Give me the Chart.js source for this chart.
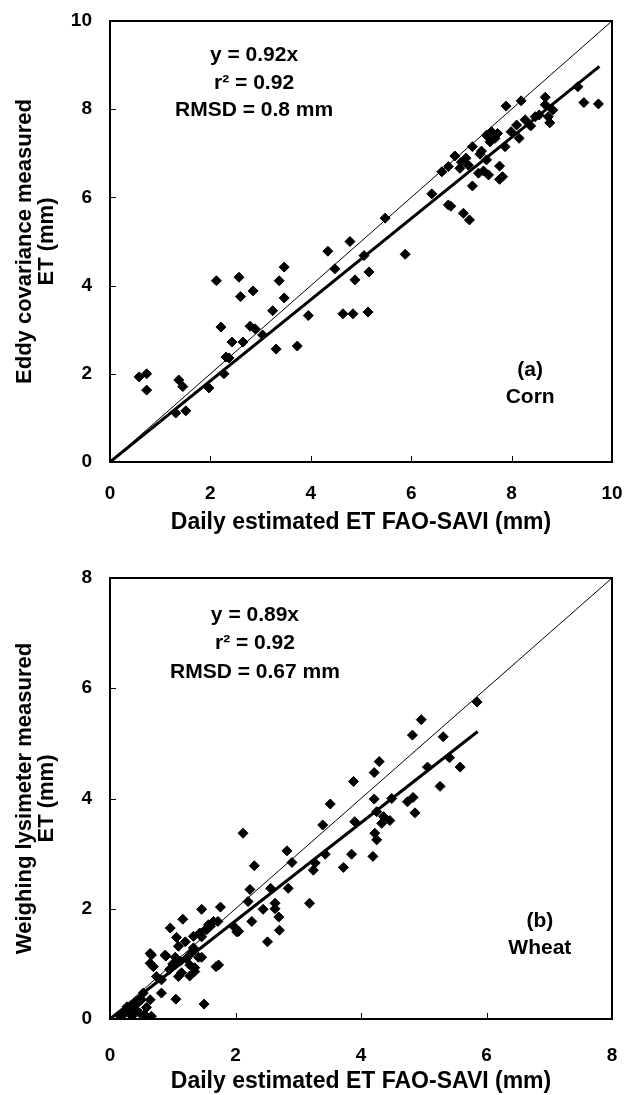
<!DOCTYPE html>
<html>
<head>
<meta charset="utf-8">
<script src="https://cdn.jsdelivr.net/npm/chart.js@4.4.0/dist/chart.umd.min.js"></script>
<style>
body { margin: 0; background: #fff; }
canvas { display: block; }
</style>
</head>
<body>
<canvas id="cornChart" width="636" height="547"></canvas>
<canvas id="wheatChart" width="636" height="548"></canvas>
<script>
// (a) corn - eddy covariance vs FAO-SAVI
const cornX = [0.58, 0.73, 0.73, 1.37, 1.45, 1.31, 1.51, 1.97, 2.27, 2.31, 2.37, 2.43, 2.65, 3.31, 3.73,
    2.12, 2.57, 3.37, 3.47, 2.85, 2.60, 3.47, 3.24, 3.95, 2.21, 2.79, 2.89, 3.04,
    4.34, 4.78, 4.48, 5.06, 5.88, 4.88, 5.16, 4.64, 4.84, 5.14, 5.48,
    6.41, 6.74, 6.79, 7.04, 7.16, 7.22, 6.61, 6.74, 6.87, 6.97, 7.09, 7.14, 7.22, 7.37, 7.50,
    7.34, 7.44, 7.54, 7.76, 7.76, 7.82, 7.50, 7.60, 7.67, 7.57, 7.87, 7.72, 7.89, 7.99, 8.10,
    8.15, 8.19, 8.27, 8.38, 8.47, 8.55, 8.67, 8.67, 8.73, 8.82, 8.76, 9.32, 9.44, 9.73, 7.00, 7.40];
const cornY = [1.93, 2.00, 1.63, 1.86, 1.71, 1.11, 1.16, 1.68, 2.00, 2.38, 2.36, 2.72, 2.72, 2.56, 2.63,
    4.11, 4.19, 4.11, 4.42, 3.88, 3.75, 3.72, 3.43, 3.32, 3.06, 3.08, 3.02, 2.88,
    4.78, 5.00, 4.38, 4.68, 4.71, 4.13, 4.31, 3.36, 3.36, 3.40, 5.53,
    6.08, 5.83, 5.80, 5.64, 5.49, 6.26, 6.58, 6.70, 6.94, 6.66, 6.89, 6.73, 7.15, 6.98, 6.85,
    6.55, 6.60, 6.51, 6.71, 6.41, 6.47, 7.41, 7.49, 7.34, 7.26, 7.15, 7.45, 8.07, 7.49, 7.64,
    7.34, 8.19, 7.76, 7.62, 7.83, 7.87, 8.27, 8.10, 7.83, 7.98, 7.69, 8.51, 8.15, 8.12, 6.80, 7.05];
const cornSlope = 0.92;
const cornFitEnd = 9.75;
const cornMax = 10;
const cornNotes = ['y = 0.92x', 'r\u00B2 = 0.92', 'RMSD = 0.8 mm'];
const cornTag = ['(a)', 'Corn'];

// (b) wheat - weighing lysimeter vs FAO-SAVI
const wheatX = [5.85, 4.96, 4.82, 5.31, 4.29, 4.21, 3.88, 5.41, 5.58, 5.06, 5.26, 4.21, 4.49, 4.83, 3.51,
    4.74, 4.86, 4.25, 4.36, 4.46, 4.33, 3.90, 3.39, 2.12, 4.22, 4.25, 2.82, 3.43, 3.85, 4.19,
    2.90, 2.30, 3.27, 3.24, 3.72, 2.23, 2.56, 2.84, 2.20, 3.18, 2.63, 2.63, 2.44, 1.46, 1.76,
    1.16, 2.69, 1.65, 1.72, 2.26, 0.96, 1.57, 2.70, 2.51, 1.99, 2.05, 1.53, 1.59, 1.33, 1.46,
    1.06, 1.09, 0.66, 0.88, 1.04, 1.12, 1.22, 1.30, 1.33, 1.27, 1.35, 1.41, 1.46, 0.69, 1.14,
    1.09, 1.27, 1.35, 1.69, 1.73, 0.74, 0.82, 0.82, 1.05, 1.50, 0.53, 0.50, 0.64, 0.27, 0.37,
    0.32, 0.21, 0.42, 0.48, 0.58, 0.66, 0.35, 0.16, 0.64, 0.64, 0.89, 1.43, 1.54, 2.02, 0.95,
    1.00, 1.20, 0.45, 0.25, 0.55];
const wheatY = [5.75, 5.43, 5.15, 5.12, 4.67, 4.47, 4.31, 4.74, 4.57, 4.57, 4.22, 3.99, 4.00, 4.02, 3.90,
    3.94, 3.74, 3.76, 3.67, 3.60, 3.55, 3.58, 3.52, 3.37, 3.37, 3.25, 3.05, 2.99, 2.99, 2.95,
    2.84, 2.78, 2.83, 2.70, 2.75, 2.35, 2.37, 2.37, 2.13, 2.10, 2.10, 2.00, 1.99, 1.99, 2.03,
    1.81, 1.85, 1.77, 1.77, 1.77, 1.65, 1.71, 1.61, 1.40, 1.66, 1.59, 1.63, 1.68, 1.50, 1.49,
    1.48, 1.32, 1.16, 1.16, 1.12, 1.05, 1.10, 1.20, 1.29, 0.98, 0.93, 1.12, 1.12, 0.95, 0.84,
    0.77, 0.78, 0.86, 0.95, 0.98, 0.77, 0.71, 0.47, 0.36, 0.27, 0.47, 0.35, 0.35, 0.22, 0.25,
    0.13, 0.08, 0.16, 0.10, 0.21, 0.05, 0.05, 0.05, 1.01, 1.19, 1.14, 1.56, 1.62, 1.58, 0.90,
    1.00, 1.40, 0.30, 0.15, 0.08];
const wheatSlope = 0.89;
const wheatFitEnd = 5.86;
const wheatMax = 8;
const wheatNotes = ['y = 0.89x', 'r\u00B2 = 0.92', 'RMSD = 0.67 mm'];
const wheatTag = ['(b)', 'Wheat'];

const xTitle = 'Daily estimated ET FAO-SAVI (mm)';
const FONT = '"Liberation Sans", Arial, Helvetica, sans-serif';

// box around the plot, ticks pointing inwards and the text notes
const framePlugin = {
    id: 'frame',
    afterDatasetsDraw(chart, args, opts) {
        const ctx = chart.ctx;
        const a = chart.chartArea;
        const sx = chart.scales.x;
        const sy = chart.scales.y;
        ctx.save();
        ctx.strokeStyle = '#000';
        ctx.lineWidth = 1;
        ctx.beginPath();
        sx.ticks.forEach(function (t) {
            const px = Math.round(sx.getPixelForValue(t.value)) + 0.5;
            ctx.moveTo(px, a.bottom);
            ctx.lineTo(px, a.bottom - 6);
        });
        sy.ticks.forEach(function (t) {
            const py = Math.round(sy.getPixelForValue(t.value)) + 0.5;
            ctx.moveTo(a.left, py);
            ctx.lineTo(a.left + 6, py);
        });
        ctx.stroke();
        ctx.lineWidth = 2;
        ctx.strokeRect(a.left, a.top, a.right - a.left, a.bottom - a.top);

        ctx.fillStyle = '#000';
        ctx.font = 'bold 21px ' + FONT;
        ctx.textAlign = 'center';
        ctx.textBaseline = 'middle';
        opts.notes.forEach(function (n, i) {
            ctx.fillText(n, sx.getPixelForValue(opts.noteX), sy.getPixelForValue(opts.noteY[i]));
        });
        opts.tag.forEach(function (n, i) {
            ctx.fillText(n, sx.getPixelForValue(opts.tagX), sy.getPixelForValue(opts.tagY[i]));
        });
        ctx.restore();
    }
};

function makeChart(id, xs, ys, slope, fitEnd, max, yTitle, frame, lay) {
    const points = xs.map(function (x, i) { return { x: x, y: ys[i] }; });
    new Chart(document.getElementById(id), {
        type: 'scatter',
        data: {
            datasets: [{
                data: points,
                pointStyle: 'rectRot',
                pointRadius: 5,
                pointBorderWidth: 1,
                backgroundColor: '#000',
                borderColor: '#000',
                order: 0
            }, {
                data: [{ x: 0, y: 0 }, { x: fitEnd, y: slope * fitEnd }],
                showLine: true,
                borderColor: '#000',
                borderWidth: 3,
                pointRadius: 0,
                order: 1
            }, {
                data: [{ x: 0, y: 0 }, { x: max, y: max }],
                showLine: true,
                borderColor: '#000',
                borderWidth: 1,
                pointRadius: 0,
                order: 2
            }]
        },
        options: {
            responsive: false,
            animation: false,
            devicePixelRatio: 1,
            layout: { padding: { top: lay.top, right: 24, left: 0, bottom: 0 } },
            plugins: {
                legend: { display: false },
                tooltip: { enabled: false },
                frame: frame
            },
            scales: {
                x: {
                    type: 'linear',
                    min: 0,
                    max: max,
                    grid: { display: false, drawTicks: false },
                    border: { display: false },
                    ticks: { stepSize: 2, color: '#000', padding: lay.xPad, font: { family: FONT, size: 19, weight: 'bold' } },
                    title: { display: true, text: xTitle, color: '#000', padding: { top: 0, bottom: lay.titlePad }, font: { family: FONT, size: 23, weight: 'bold', lineHeight: 1.2 } },
                    afterFit: function (s) { s.height = lay.xHeight; s.paddingLeft = 0; s.paddingRight = 0; }
                },
                y: {
                    type: 'linear',
                    min: 0,
                    max: max,
                    grid: { display: false, drawTicks: false },
                    border: { display: false },
                    ticks: { stepSize: 2, color: '#000', padding: 18, font: { family: FONT, size: 19, weight: 'bold' } },
                    title: { display: true, text: yTitle, color: '#000', padding: { top: 14, bottom: 0 }, font: { family: FONT, size: 22, weight: 'bold', lineHeight: 1.0 } },
                    afterFit: function (s) { s.width = 110; s.paddingTop = 0; s.paddingBottom = 0; }
                }
            }
        },
        plugins: [framePlugin]
    });
}

makeChart('cornChart', cornX, cornY, cornSlope, cornFitEnd, cornMax,
    ['Eddy covariance measured', 'ET (mm)'],
    { notes: cornNotes, noteX: 2.87, noteY: [9.23, 8.59, 7.98], tag: cornTag, tagX: 8.37, tagY: [2.09, 1.47] },
    { top: 21, xHeight: 85, xPad: 20, titlePad: 11 });

makeChart('wheatChart', wheatX, wheatY, wheatSlope, wheatFitEnd, wheatMax,
    ['Weighing lysimeter measured', 'ET (mm)'],
    { notes: wheatNotes, noteX: 2.31, noteY: [7.33, 6.82, 6.30], tag: wheatTag, tagX: 6.85, tagY: [1.78, 1.29] },
    { top: 31, xHeight: 76, xPad: 25, titlePad: 0 });
</script>
</body>
</html>
